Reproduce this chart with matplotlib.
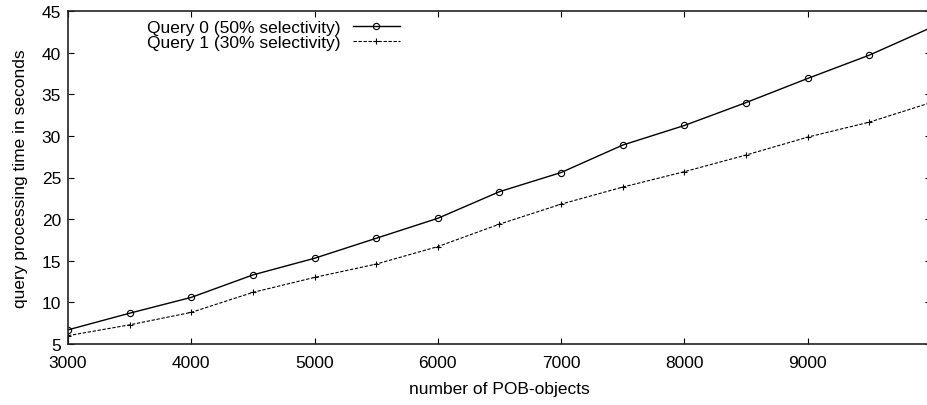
import numpy as np
import matplotlib
matplotlib.use('Agg')
import matplotlib.pyplot as plt

plt.rcParams['font.family'] = ['Liberation Sans', 'DejaVu Sans']

# number of POB-objects
n_objects = [3000, 3500, 4000, 4500, 5000, 5500, 6000, 6500, 7000,
             7500, 8000, 8500, 9000, 9500, 10000]
# query processing time (s)
query0 = [6.7, 8.7, 10.6, 13.3, 15.3, 17.7, 20.1, 23.3, 25.6,
          28.9, 31.25, 34.0, 36.9, 39.7, 43.0]
query1 = [6.0, 7.3, 8.8, 11.2, 13.0, 14.6, 16.7, 19.4, 21.8,
          23.85, 25.7, 27.7, 29.85, 31.65, 34.0]

labels = ['Query 0 (50% selectivity)', 'Query 1 (30% selectivity)']
xticks = [3000, 4000, 5000, 6000, 7000, 8000, 9000]
yticks = [5, 10, 15, 20, 25, 30, 35, 40, 45]

fs = 12.5

fig = plt.figure(figsize=(9.28, 4.06), dpi=100)
# axes runs a bit past the right edge, like the original crop
ax = fig.add_axes([68/928, 61/406, 863/928, 333/406])

ax.plot(n_objects, query0, color='black', lw=1, marker='o', ms=4.5,
        mfc='none', mew=0.8, label=labels[0])
ax.plot(n_objects, query1, color='black', lw=0.8, ls=(0, (3, 1.5)),
        marker='+', ms=5, mew=0.8, label=labels[1])

ax.set_xlim(3000, 10000)
ax.set_ylim(5, 45)
ax.set_xticks(xticks)
ax.set_yticks(yticks)
ax.tick_params(direction='in', length=4, width=0.8, top=True, right=True,
               labelsize=fs)
ax.tick_params(axis='x', pad=8)
ax.tick_params(axis='y', pad=5)
for s in ax.spines.values():
    s.set_linewidth(1.2)
    s.set_color('#222222')

ax.set_xlabel('number of POB-objects', fontsize=fs, labelpad=8)
ax.set_ylabel('query processing time in seconds', fontsize=fs, labelpad=10)

ax.legend(loc='upper right', bbox_to_anchor=(0.385, 0.973), frameon=False,
          markerfirst=False, fontsize=fs, handlelength=2.75, handletextpad=0.7,
          labelspacing=0.0, borderpad=0, borderaxespad=0)

fig.savefig('out.png', dpi=100)
